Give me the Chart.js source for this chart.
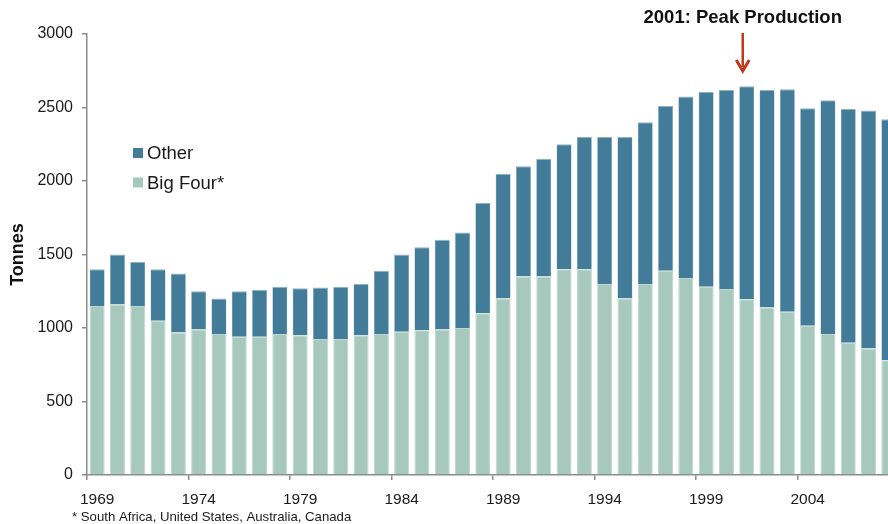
<!DOCTYPE html>
<html>
<head>
<meta charset="utf-8">
<script src="https://cdn.jsdelivr.net/npm/chart.js@4/dist/chart.umd.min.js"></script>
<style>
  body { margin: 0; width: 888px; height: 524px; overflow: hidden; background: #fff; }
  #wrap { position: relative; width: 900px; height: 524px; }
</style>
</head>
<body>
<div id="wrap"><canvas id="goldChart" width="900" height="524"></canvas></div>
<script>
// gold mine production, tonnes per year
const years = ['1969','1970','1971','1972','1973','1974','1975','1976','1977','1978',
               '1979','1980','1981','1982','1983','1984','1985','1986','1987','1988',
               '1989','1990','1991','1992','1993','1994','1995','1996','1997','1998',
               '1999','2000','2001','2002','2003','2004','2005','2006','2007','2008'];

const bigFour = [1150,1160,1150,1050,970,990,960,940,940,960,
                 950,925,925,950,960,975,985,990,1000,1100,
                 1200,1350,1350,1400,1400,1300,1200,1300,1390,1340,
                 1280,1265,1195,1140,1110,1015,960,900,860,780];

const other = [250,340,300,350,400,260,240,310,320,320,
               320,350,355,350,430,525,565,610,650,750,
               850,750,800,850,900,1000,1100,1100,1120,1235,
               1325,1355,1450,1480,1515,1480,1590,1590,1620,1640];

const yTicks = [0, 500, 1000, 1500, 2000, 2500, 3000];
const peakYear = '2001';

const font = "'Liberation Sans', Arial, sans-serif";
const axisGrey = '#8c8c8c';

// legend, annotation and footnote drawn on the canvas
const extras = {
    id: 'extras',
    afterDraw(chart) {
        const ctx = chart.ctx;
        ctx.save();

        // legend (Other above Big Four)
        const items = [chart.data.datasets[1], chart.data.datasets[0]];
        ctx.font = '18.5px ' + font;
        ctx.textBaseline = 'middle';
        items.forEach((ds, i) => {
            const y = 153 + i * 29.5;
            ctx.fillStyle = ds.backgroundColor;
            ctx.fillRect(133, y - 5, 10, 10);
            ctx.fillStyle = '#1a1a1a';
            ctx.fillText(ds.label, 147, y + 1);
        });

        // peak annotation
        const x = chart.scales.x.getPixelForValue(years.indexOf(peakYear)) - 4;
        ctx.font = 'bold 18.5px ' + font;
        ctx.textAlign = 'center';
        ctx.fillStyle = '#111';
        ctx.fillText('2001: Peak Production', x, 18);

        ctx.strokeStyle = '#c0391b';
        ctx.lineWidth = 2.5;
        ctx.beginPath();
        ctx.moveTo(x, 33);
        ctx.lineTo(x, 67);
        ctx.stroke();
        ctx.lineWidth = 3;
        ctx.beginPath();
        ctx.moveTo(x - 6.5, 60);
        ctx.lineTo(x, 71);
        ctx.lineTo(x + 6.5, 60);
        ctx.stroke();

        // footnote
        ctx.font = '13.2px ' + font;
        ctx.textAlign = 'left';
        ctx.fillStyle = '#1a1a1a';
        ctx.fillText('* South Africa, United States, Australia, Canada', 72, 517);

        ctx.restore();
    }
};

const ctx = document.getElementById('goldChart').getContext('2d');
const chart = new Chart(ctx, {
    type: 'bar',
    data: {
        labels: years,
        datasets: [{
            label: 'Big Four*',
            data: bigFour,
            backgroundColor: '#a7c8bc',
            borderColor: '#bdd7ce',
            borderWidth: 1,
            borderSkipped: 'bottom'
        }, {
            label: 'Other',
            data: other,
            backgroundColor: '#437c98',
            borderColor: '#8fb2c3',
            borderWidth: {top: 1, left: 0.5, right: 0.5, bottom: 0},
            borderSkipped: 'bottom'
        }]
    },
    options: {
        responsive: false,
        animation: false,
        layout: { padding: { top: 34, right: 1, left: 0, bottom: 0 } },
        datasets: {
            bar: { categoryPercentage: 1, barPercentage: 0.74 }
        },
        plugins: {
            legend: { display: false },
            tooltip: { enabled: false }
        },
        scales: {
            x: {
                stacked: true,
                afterFit(scale) { scale.height = 49; },
                border: { display: true, color: axisGrey, width: 1.5 },
                grid: {
                    offset: true,
                    drawOnChartArea: false,
                    drawTicks: true,
                    tickLength: 5,
                    lineWidth: 1.5,
                    color: c => (c.index % 5 === 0 ? axisGrey : 'rgba(0,0,0,0)'),
                    tickColor: c => (c.index % 5 === 0 ? axisGrey : 'rgba(0,0,0,0)')
                },
                ticks: {
                    autoSkip: false,
                    maxRotation: 0,
                    padding: 10,
                    color: '#1a1a1a',
                    font: { family: font, size: 15.5 },
                    callback: function(value, index) {
                        return index % 5 === 0 ? years[index] : '';
                    }
                }
            },
            y: {
                stacked: true,
                min: 0,
                max: 3000,
                afterFit(scale) { scale.width = 87; },
                afterBuildTicks(scale) {
                    scale.ticks = yTicks.map(v => ({ value: v }));
                },
                border: { display: true, color: axisGrey, width: 1.5 },
                grid: {
                    drawOnChartArea: false,
                    drawTicks: true,
                    tickLength: 5,
                    color: axisGrey,
                    lineWidth: 1.5
                },
                ticks: {
                    padding: 9,
                    color: '#1a1a1a',
                    font: { family: font, size: 16 },
                    callback: v => String(v)
                },
                title: {
                    display: true,
                    text: 'Tonnes',
                    color: '#111',
                    padding: { top: 7, bottom: 0 },
                    font: { family: font, size: 18, weight: 'bold' }
                }
            }
        }
    },
    plugins: [extras]
});
</script>
</body>
</html>
